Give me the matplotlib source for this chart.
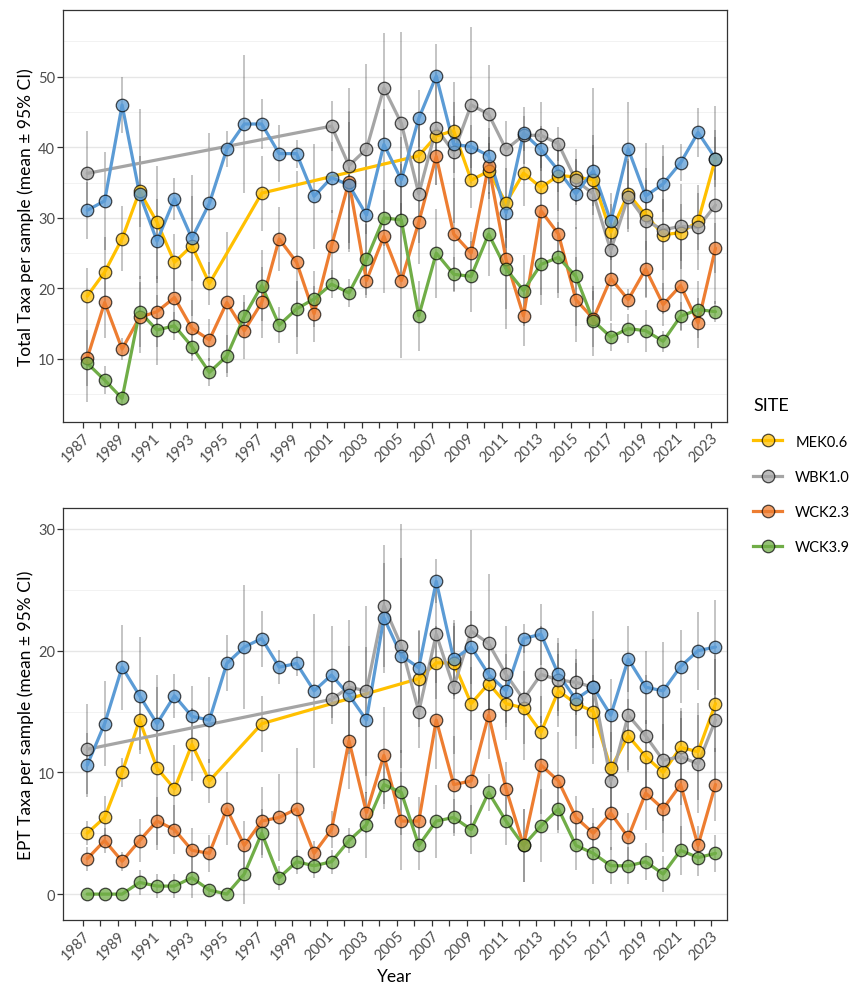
"""
Plot taxa richness per sample by site and year (two panels)
"""

import matplotlib
matplotlib.use("Agg")
import matplotlib.pyplot as plt
from matplotlib.colors import to_rgba
from matplotlib.lines import Line2D
import numpy as np

nan = np.nan

YEARS = np.arange(1987, 2024)
SAMPLE_OFFSET = 0.26  # samples collected in spring, ticks sit on Jan 1

SITES = ["MEK0.6", "WBK1.0", "WCK2.3", "WCK3.9", None]
COLOURS = ["#FFC000", "#A5A5A5", "#ED7D31", "#70AD47", "#5B9BD5"]

# ---- Total taxa (mean) ----
total_mek = [18.9, 22.3, 27.05, 33.75, 29.4, 23.7, 26.05, 20.7, nan, nan,
             33.5, nan, nan, nan, nan, nan, nan, nan, nan, 38.8,
             41.6, 42.35, 35.35, 36.6, 32.1, 36.35, 34.3, 36.0, 35.8, 35.35,
             28.0, 33.4, 30.4, 27.6, 27.9, 29.5, 38.4]
total_wbk = [36.3, nan, nan, nan, nan, nan, nan, nan, nan, nan,
             nan, nan, nan, nan, 43.0, 37.4, 39.75, 48.4, 43.4, 33.4,
             42.7, 39.3, 46.0, 44.7, 39.7, 41.7, 41.7, 40.5, 35.3, 33.4,
             25.4, 33.0, 29.6, 28.3, 28.8, 28.65, 31.8]
total_wck23 = [10.1, 18.0, 11.4, 15.9, 16.7, 18.7, 14.35, 12.7, 18.0, 14.0,
               18.0, 27.0, 23.7, 16.4, 26.05, 35.1, 21.1, 27.4, 21.1, 29.4,
               38.7, 27.7, 25.0, 37.4, 24.1, 16.1, 31.0, 27.7, 18.4, 15.7,
               21.4, 18.4, 22.75, 17.7, 20.4, 15.1, 25.7]
total_wck39 = [9.4, 7.0, 4.4, 16.7, 14.1, 14.7, 11.75, 8.1, 10.4, 16.05,
               20.4, 14.8, 17.1, 18.5, 20.6, 19.35, 24.1, 30.0, 29.7, 16.1,
               25.0, 22.0, 21.7, 27.7, 22.75, 19.7, 23.4, 24.4, 21.7, 15.4,
               13.1, 14.3, 14.0, 12.5, 16.05, 17.0, 16.7]
total_ref = [31.06, 32.4, 46.0, 33.4, 26.7, 32.7, 27.1, 32.05, 39.75, 43.3,
             43.3, 39.1, 39.1, 33.05, 35.7, 34.65, 30.4, 40.4, 35.4, 44.1,
             50.1, 40.4, 40.1, 38.8, 30.7, 42.0, 39.7, 36.7, 33.4, 36.7,
             29.5, 39.75, 33.1, 34.8, 37.8, 42.1, 38.4]

# ---- Total taxa (95% CI half width) ----
total_mek_ci = [4, 5, 4.6, 5, 8, 4, 10, 3, nan, nan,
                5.3, nan, nan, nan, nan, nan, nan, nan, nan, 5,
                4, 4, 4, 4, 5, 4.7, 5, 5, 4, 5,
                4, 5, 5, 5, 4, 4, 4]
total_wbk_ci = [6, nan, nan, nan, nan, nan, nan, nan, nan, nan,
                nan, nan, nan, nan, 3.5, 11, 12, 7.8, 13, 10,
                8, 10, 11, 7, 4, 4, 4.7, 2.4, 3, 15,
                4, 5, 11, 12, 6, 6, 14]
total_wck23_ci = [4, 5, 1.5, 5, 5, 5, 4, 3, 10, 4,
                  5, 4.5, 13, 4, 5, 10, 2.5, 8, 11, 3,
                  4, 8, 3, 4, 7, 4.2, 12, 9, 6, 4,
                  6, 1.5, 4, 3, 6.5, 3.5, 3.5]
total_wck39_ci = [5.5, 2, 1, 5, 5, 2, 2, 2, 3, 3,
                  5, 2.5, 4, 4, 2, 2, 5, 4, 8, 5,
                  6.3, 2.5, 5, 6, 8.5, 5, 5.8, 5, 7, 5,
                  2, 2, 3, 1.5, 2, 4, 1.5]
total_ref_ci = [4, 7, 4, 12, 6, 3, 6, 10, 2.5, 9.8,
                3.5, 4, 2, 7.4, 5, 9, 10, 5, 6, 4,
                4.5, 4, 3, 4, 5, 2.5, 3, 3, 5, 5,
                4, 6.6, 4, 4, 2.6, 3.5, 3]

# ---- EPT taxa (mean) ----
ept_mek = [5.0, 6.3, 10.0, 14.3, 10.35, 8.65, 12.3, 9.3, nan, nan,
           14.0, nan, nan, nan, nan, nan, nan, nan, nan, 17.7,
           19.0, 19.0, 15.65, 17.3, 15.65, 15.3, 13.3, 16.7, 15.65, 15.0,
           10.35, 13.0, 11.3, 10.0, 12.05, 11.7, 15.65]
ept_wbk = [11.9, nan, nan, nan, nan, nan, nan, nan, nan, nan,
           nan, nan, nan, nan, 16.0, 17.0, 16.7, 23.7, 20.4, 15.0,
           21.35, 17.0, 21.6, 20.6, 18.05, 16.0, 18.05, 17.6, 17.4, 17.0,
           9.3, 14.7, 13.0, 11.0, 11.3, 10.7, 14.3]
ept_wck23 = [2.9, 4.4, 2.7, 4.4, 6.0, 5.3, 3.6, 3.35, 7.0, 4.0,
             6.0, 6.3, 7.0, 3.35, 5.3, 12.6, 6.7, 11.4, 6.0, 6.0,
             14.3, 9.0, 9.3, 14.7, 8.65, 4.0, 10.6, 9.3, 6.3, 5.0,
             6.65, 4.67, 8.3, 7.0, 9.0, 4.0, 9.0]
ept_wck39 = [0, 0, 0, 0.96, 0.66, 0.66, 1.35, 0.33, 0, 1.65,
             5.0, 1.35, 2.66, 2.33, 2.66, 4.4, 5.7, 9.0, 8.35, 4.0,
             6.0, 6.3, 5.3, 8.35, 6.0, 4.0, 5.6, 7.0, 4.0, 3.35,
             2.33, 2.33, 2.66, 1.65, 3.6, 3.0, 3.35]
ept_ref = [10.6, 14.0, 18.65, 16.3, 14.0, 16.3, 14.6, 14.3, 18.95, 20.3,
           21.0, 18.65, 18.95, 16.7, 18.0, 16.35, 14.3, 22.7, 19.6, 18.6,
           25.7, 19.3, 20.3, 18.05, 16.7, 21.0, 21.35, 18.05, 16.0, 17.0,
           14.7, 19.3, 17.0, 16.7, 18.7, 20.0, 20.3]

# ---- EPT taxa (95% CI half width) ----
ept_mek_ci = [1, 1.8, 1.2, 2.5, 6.7, 3.6, 3, 1.8, nan, nan,
              2.3, nan, nan, nan, nan, nan, nan, nan, nan, 4,
              3, 3, 3, 3, 3, 3, 3, 3, 3.7, 3,
              4, 3, 3, 4, 3, 4, 4]
ept_wbk_ci = [3.7, nan, nan, nan, nan, nan, nan, nan, nan, nan,
              nan, nan, nan, nan, 1.5, 5.5, 7, 5, 10, 3,
              4, 5.5, 8.3, 5.7, 4, 5, 4, 3, 2.7, 6.3,
              4, 4.5, 5, 6, 4, 4, 5]
ept_wck23_ci = [1, 1, 0.8, 1.8, 2, 2, 1.8, 1.5, 3, 2,
                2.8, 3.6, 5, 1, 1.5, 4, 1.7, 4, 4, 2,
                4, 4, 4, 3.6, 2.2, 3, 4, 4, 1.8, 2.1,
                3, 2, 3, 3.5, 5.5, 1.6, 3]
ept_wck39_ci = [0, 0, 0, 1, 1, 1, 1.7, 0.5, 0, 2.5,
                2, 1, 1, 1, 1, 1, 2.7, 2, 3.5, 2,
                3, 1.5, 2, 1.5, 2, 3, 3, 2, 2, 2.5,
                1.5, 1.5, 1.5, 1.5, 2, 1.5, 1.5]
ept_ref_ci = [2.6, 3.5, 3.5, 4.8, 4, 1.8, 2.5, 3.5, 2.3, 5.1,
              2.3, 1.4, 1, 6.3, 4, 4, 6, 4.5, 8, 3,
              1.8, 3, 3, 3, 3, 1.2, 2.5, 3, 3, 4,
              3, 2.7, 3, 4, 3, 3.2, 3.9]

plt.rcParams["font.family"] = ["Lato", "DejaVu Sans"]


def plot_panel(ax, means, cis, ylabel, ylim, major, minor, show_xlabel):
    """
    Draw one panel: CI bars, connecting lines and points per site
    """
    x = YEARS + SAMPLE_OFFSET
    # error bars first, beneath everything
    for m, c in zip(means, cis):
        m = np.asarray(m, dtype=float)
        c = np.asarray(c, dtype=float)
        ok = ~np.isnan(m)
        ax.vlines(x[ok], m[ok] - c[ok], m[ok] + c[ok], color="#3a3a3a",
                  alpha=0.38, lw=1.1, zorder=1)
    # lines skip missing years (connect neighbours)
    for m, col in zip(means, COLOURS):
        m = np.asarray(m, dtype=float)
        ok = ~np.isnan(m)
        ax.plot(x[ok], m[ok], color=col, lw=2.3, zorder=2,
                solid_capstyle="round")
    for m, col in zip(means, COLOURS):
        m = np.asarray(m, dtype=float)
        ok = ~np.isnan(m)
        ax.plot(x[ok], m[ok], "o", ms=9, mfc=to_rgba(col, 0.75),
                mec=to_rgba("black", 0.7), mew=0.9, zorder=3)

    ax.set_xlim(1985.89, 2023.9)
    ax.set_ylim(*ylim)
    ax.set_xticks(YEARS)
    ax.set_xticklabels([str(y) if (y - 1987) % 2 == 0 else "" for y in YEARS],
                       rotation=45, ha="right", rotation_mode="anchor")
    ax.set_yticks(major)
    ax.set_yticks(minor, minor=True)
    ax.tick_params(axis="y", which="minor", length=0)
    ax.tick_params(axis="both", which="major", length=4, width=0.9,
                   color="#333333", labelcolor="#4d4d4d", labelsize=10.5)
    ax.tick_params(axis="x", pad=2)
    ax.tick_params(axis="y", pad=2)
    ax.grid(axis="y", which="major", color="#e6e6e6", lw=1.0)
    ax.grid(axis="y", which="minor", color="#f0f0f0", lw=0.6)
    ax.set_axisbelow(True)
    for sp in ax.spines.values():
        sp.set_color("#333333")
        sp.set_linewidth(0.9)
    ax.set_ylabel(ylabel, fontsize=12.5, labelpad=3)
    if show_xlabel:
        ax.set_xlabel("Year", fontsize=12.5, labelpad=4)


fig = plt.figure(figsize=(8.54, 9.87), dpi=100)
ax_top = fig.add_axes([0.0741, 0.5717, 0.7768, 0.4171])
ax_bot = fig.add_axes([0.0741, 0.0672, 0.7768, 0.4168])

plot_panel(ax_top,
           [total_mek, total_wbk, total_wck23, total_wck39, total_ref],
           [total_mek_ci, total_wbk_ci, total_wck23_ci, total_wck39_ci, total_ref_ci],
           "Total Taxa per sample (mean \u00b1 95% CI)",
           (1.1, 59.45), [10, 20, 30, 40, 50], np.arange(5, 60, 5), False)
plot_panel(ax_bot,
           [ept_mek, ept_wbk, ept_wck23, ept_wck39, ept_ref],
           [ept_mek_ci, ept_wbk_ci, ept_wck23_ci, ept_wck39_ci, ept_ref_ci],
           "EPT Taxa per sample (mean \u00b1 95% CI)",
           (-2.1, 31.7), [0, 10, 20, 30], [5, 15, 25], True)

handles = []
for site, col in zip(SITES, COLOURS):
    if site is None:
        continue
    handles.append(Line2D([], [], color=col, lw=2.3, marker="o", ms=9,
                          mfc=to_rgba(col, 0.75), mec=to_rgba("black", 0.7),
                          mew=0.9, label=site))
leg = fig.legend(handles=handles, title="SITE", loc="center left",
                 bbox_to_anchor=(0.868, 0.517), frameon=False, fontsize=10.5,
                 title_fontsize=13, handlelength=2.0, labelspacing=1.45,
                 borderpad=0.3, handletextpad=0.9)
leg._legend_box.align = "left"

plt.savefig("out.png", format="png", dpi=100)
